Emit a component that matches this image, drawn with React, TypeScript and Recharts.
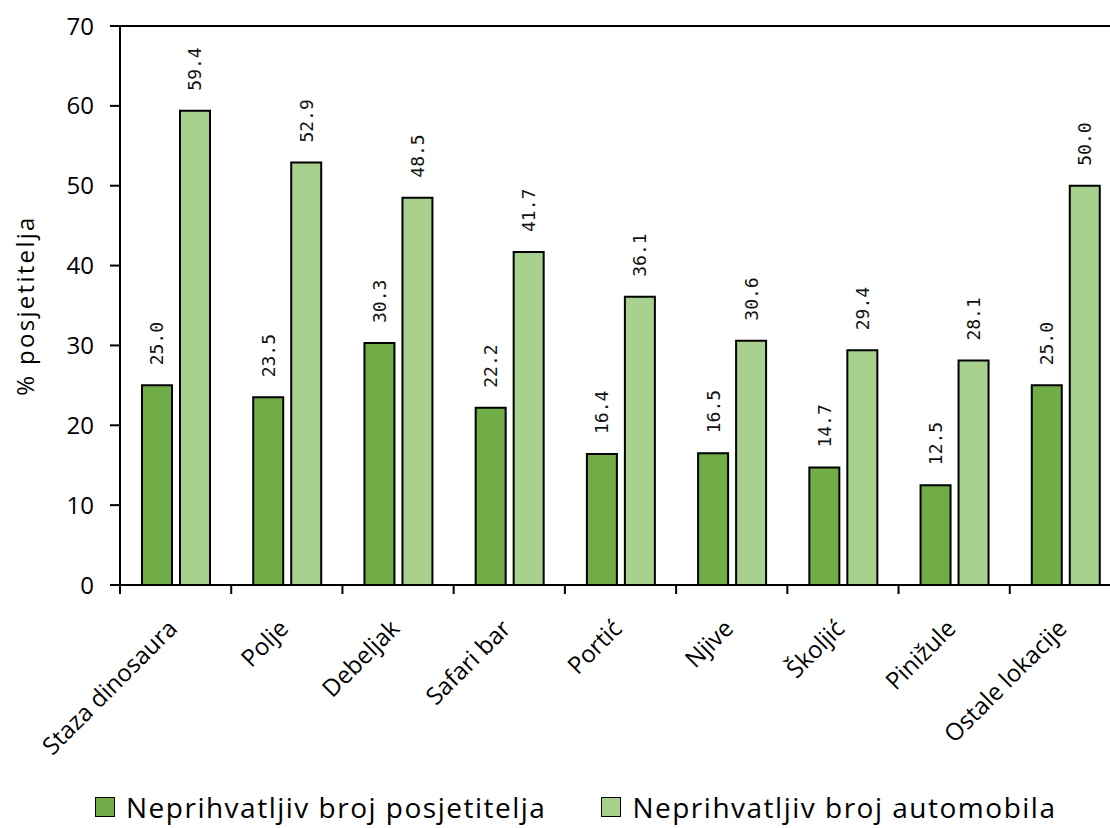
import React from 'react';
import { BarChart, Bar, XAxis, YAxis, Legend, ReferenceLine } from 'recharts';

const categories = ['Staza dinosaura', 'Polje', 'Debeljak', 'Safari bar', 'Portić', 'Njive', 'Školjić', 'Pinižule', 'Ostale lokacije'];
const posjetitelji = [25.0, 23.5, 30.3, 22.2, 16.4, 16.5, 14.7, 12.5, 25.0];
const automobili = [59.4, 52.9, 48.5, 41.7, 36.1, 30.6, 29.4, 28.1, 50.0];
const yTicks = [0, 10, 20, 30, 40, 50, 60, 70];
const seriesNames = ['Neprihvatljiv broj posjetitelja', 'Neprihvatljiv broj automobila'];
const colors = ['#70AD47', '#A9D18E'];

const data = categories.map((c, i) => ({ name: c, p: posjetitelji[i], a: automobili[i] }));

const FONT = '"Open Sans", sans-serif';

const CategoryTick = (props: any) => {
  const { x, y, payload, index } = props;
  const half = payload && typeof payload.offset === 'number' && payload.offset > 0 ? payload.offset : 55.6;
  const ax = x + 3;
  const ay = y + 45;
  return (
    <g>
      <line x1={x - half} y1={y} x2={x - half} y2={y + 9} stroke="#000" strokeWidth={2} />
      {index === categories.length - 1 && (
        <line x1={x + half} y1={y} x2={x + half} y2={y + 9} stroke="#000" strokeWidth={2} />
      )}
      <text x={ax} y={ay} textAnchor="end" transform={`rotate(-45, ${ax}, ${ay})`} fontFamily={FONT} fontSize={24} fill="#000">
        {payload.value}
      </text>
    </g>
  );
};

const ValueLabel = (props: any) => {
  const { x, y, width, value } = props;
  const cx = x + width / 2;
  const ty = y - 20;
  return (
    <text x={cx} y={ty} textAnchor="start" dominantBaseline="central" transform={`rotate(-90, ${cx}, ${ty})`} fontFamily='"DejaVu Sans Mono", monospace' fontSize={18} fill="#111">
      {Number(value).toFixed(1)}
    </text>
  );
};

const YLabel = (props: any) => {
  const { viewBox } = props;
  const lx = viewBox.x + 24;
  const ly = viewBox.y + viewBox.height / 2;
  return (
    <text x={lx} y={ly} textAnchor="middle" dominantBaseline="central" transform={`rotate(-90, ${lx}, ${ly})`} fontFamily={FONT} fontSize={24} letterSpacing={2.3} fill="#000">
      % posjetitelja
    </text>
  );
};

const LegendContent = () => (
  <div style={{ display: 'flex', alignItems: 'center', paddingLeft: 95, marginTop: 14, fontFamily: FONT, fontSize: 28, lineHeight: '30px', letterSpacing: 1.5, color: '#000', height: 36, whiteSpace: 'nowrap' }}>
    {seriesNames.map((n, i) => (
      <div key={n} style={{ display: 'flex', alignItems: 'center', marginRight: i === 0 ? 55 : 0 }}>
        <div style={{ width: 18, height: 18, background: colors[i], border: '1px solid #000', marginRight: 11 }} />
        <span>{n}</span>
      </div>
    ))}
  </div>
);

export default function App() {
  return (
    <div style={{ position: 'absolute', left: 0, top: 0, width: 1110, height: 828, background: '#fff', overflow: 'hidden' }}>
      <BarChart width={1121} height={828} data={data} margin={{ top: 26, right: 0, left: 0, bottom: 0 }} barSize={30} barGap={8}>
        <XAxis dataKey="name" height={190} axisLine={{ stroke: '#000', strokeWidth: 2 }} tickLine={false} tickSize={0} tickMargin={0} tick={<CategoryTick />} interval={0} />
        <YAxis width={120} domain={[0, 70]} ticks={yTicks} interval={0} axisLine={{ stroke: '#000', strokeWidth: 2 }} tickLine={{ stroke: '#000', strokeWidth: 2 }} tickSize={10} tickMargin={16} tick={{ fontFamily: FONT, fontSize: 24, fill: '#000' }} label={<YLabel />} />
        <ReferenceLine y={70} stroke="#000" strokeWidth={2} />
        <Legend verticalAlign="bottom" align="left" height={53} content={<LegendContent />} />
        <Bar dataKey="p" name={seriesNames[0]} fill={colors[0]} stroke="#000" strokeWidth={2} isAnimationActive={false} label={<ValueLabel />} />
        <Bar dataKey="a" name={seriesNames[1]} fill={colors[1]} stroke="#000" strokeWidth={2} isAnimationActive={false} label={<ValueLabel />} />
      </BarChart>
    </div>
  );
}
